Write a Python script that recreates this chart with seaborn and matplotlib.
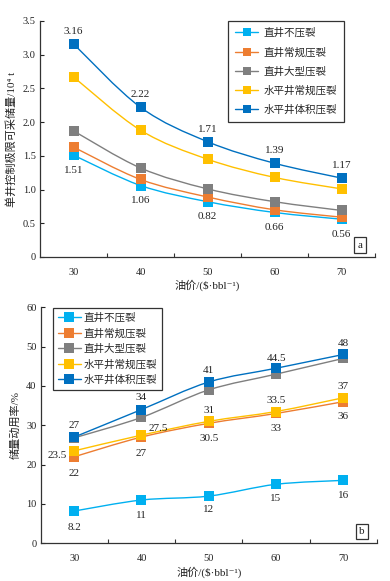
import numpy as np
import pandas as pd
import matplotlib
matplotlib.use("Agg")
import matplotlib.pyplot as plt
import seaborn as sns
from matplotlib.path import Path
from matplotlib.patches import PathPatch
from matplotlib.lines import Line2D

sns.set_theme(style="ticks")
FAM = ['Liberation Serif', 'Noto Sans CJK SC', 'DejaVu Sans']
plt.rcParams['font.family'] = FAM
plt.rcParams['axes.unicode_minus'] = False

# ---------------- data ----------------
prices = ["30", "40", "50", "60", "70"]
series = ["直井不压裂", "直井常规压裂", "直井大型压裂", "水平井常规压裂", "水平井体积压裂"]
colors = ["#00B0F0", "#ED7D31", "#7F7F7F", "#FFC000", "#0070C0"]

# panel a: 单井控制极限可采储量 / 10^4 t
a_vert_none = [1.51, 1.06, 0.82, 0.66, 0.56]
a_vert_conv = [1.63, 1.15, 0.89, 0.70, 0.59]
a_vert_large = [1.87, 1.32, 1.01, 0.82, 0.69]
a_horiz_conv = [2.67, 1.88, 1.45, 1.18, 1.01]
a_horiz_vol = [3.16, 2.22, 1.71, 1.39, 1.17]

# panel b: 储量动用率 / %
b_vert_none = [8.2, 11, 12, 15, 16]
b_vert_conv = [22, 27, 30.5, 33, 36]
b_vert_large = [26.8, 32, 39, 43, 47]
b_horiz_conv = [23.5, 27.5, 31, 33.5, 37]
b_horiz_vol = [27, 34, 41, 44.5, 48]

a_data = [a_vert_none, a_vert_conv, a_vert_large, a_horiz_conv, a_horiz_vol]
b_data = [b_vert_none, b_vert_conv, b_vert_large, b_horiz_conv, b_horiz_vol]

# labels: (series index, point index, text, dx(pt), dy(pt))
a_labels = [(4, i, f"{v:.2f}", 0, 9) for i, v in enumerate(a_horiz_vol)] + \
           [(0, i, f"{v:.2f}", 0, -11) for i, v in enumerate(a_vert_none)]
b_labels = [
    (4, 0, "27", 0, 8), (4, 1, "34", 0, 9), (4, 2, "41", 0, 8), (4, 3, "44.5", 0, 7), (4, 4, "48", 0, 8),
    (3, 0, "23.5", -12, -3), (3, 1, "27.5", 12, 5), (3, 2, "31", 0, 8), (3, 3, "33.5", 0, 8), (3, 4, "37", 0, 8),
    (1, 0, "22", 0, -12), (1, 1, "27", 0, -12), (1, 2, "30.5", 0, -11), (1, 3, "33", 0, -11), (1, 4, "36", 0, -11),
    (0, 0, "8.2", 0, -12), (0, 1, "11", 0, -11), (0, 2, "12", 0, -10), (0, 3, "15", 0, -10), (0, 4, "16", 0, -11),
]


def smooth_patch(xs, ys, color):
    pts = np.column_stack([xs, ys]).astype(float)
    n = len(pts)
    verts = [tuple(pts[0])]
    codes = [Path.MOVETO]
    for i in range(n - 1):
        p0 = pts[max(i - 1, 0)]
        p1 = pts[i]
        p2 = pts[i + 1]
        p3 = pts[min(i + 2, n - 1)]
        c1 = p1 + (p2 - p0) / 6.0
        c2 = p2 - (p3 - p1) / 6.0
        verts += [tuple(c1), tuple(c2), tuple(p2)]
        codes += [Path.CURVE4] * 3
    return PathPatch(Path(verts, codes), facecolor="none", edgecolor=color, lw=1.0, zorder=2)


def draw_panel(ax, data, labels, ylim, yticks, yticklabels, ylabel, tag, legend_kw, leg_ms, leg_fs, msize):
    xpos = np.arange(len(prices))
    rows = []
    for s, vals in zip(series, data):
        for x, v in zip(xpos, vals):
            rows.append({"x": x, "y": v, "series": s})
    df = pd.DataFrame(rows)
    for k, (s, c) in enumerate(zip(series, colors)):
        sub = df[df["series"] == s]
        ax.add_patch(smooth_patch(sub["x"].values, sub["y"].values, c))
        sns.scatterplot(data=sub, x="x", y="y", color=c, marker="s", s=msize,
                        linewidth=0, ax=ax, zorder=3 + k, legend=False)
    for si, pi, txt, dx, dy in labels:
        ax.annotate(txt, (xpos[pi], data[si][pi]), xytext=(dx, dy), textcoords="offset points",
                    ha="center", va="center", fontsize=8, color="#222222", family=FAM, zorder=20)
    ax.set_xlim(-0.5, 4.5)
    ax.set_ylim(*ylim)
    ax.set_yticks(yticks)
    ax.set_yticklabels(yticklabels)
    ax.set_xticks(xpos)
    ax.set_xticklabels(prices)
    ax.set_xticks(np.arange(0.5, 5.0, 1.0), minor=True)
    ax.tick_params(axis="x", which="major", length=0, pad=8, labelsize=7.5, colors="#222222")
    ax.tick_params(axis="x", which="minor", length=3, direction="in", width=0.8, color="#333333")
    ax.tick_params(axis="y", length=3, direction="in", width=0.8, labelsize=7.5, colors="#222222", pad=3)
    for sp in ["top", "right"]:
        ax.spines[sp].set_visible(False)
    for sp in ["left", "bottom"]:
        ax.spines[sp].set_color("#333333")
        ax.spines[sp].set_linewidth(0.9)
    ax.set_xlabel("油价/($·bbl⁻¹)", fontsize=8, family=FAM, color="#222222", labelpad=2)
    ax.set_ylabel(ylabel, fontsize=8, family=FAM, color="#222222", labelpad=4)
    handles = [Line2D([0], [0], color=c, lw=1.0, marker="s", markersize=leg_ms,
                      markeredgewidth=0) for c in colors]
    leg = ax.legend(handles, series, prop={"family": FAM, "size": leg_fs}, fancybox=False,
                    framealpha=1, edgecolor="#333333", borderaxespad=0, **legend_kw)
    leg.get_frame().set_linewidth(0.9)
    leg.set_zorder(30)
    ax.text(0.955, 0.05, tag, transform=ax.transAxes, ha="center", va="center", fontsize=8,
            family=FAM, color="#222222",
            bbox=dict(boxstyle="square,pad=0.3", fc="white", ec="#333333", lw=0.9))


fig = plt.figure(figsize=(3.9, 5.81), dpi=100)
ax1 = fig.add_axes([0.1026, 0.5577, 0.859, 0.4062])
ax2 = fig.add_axes([0.104, 0.0649, 0.8625, 0.4062])

draw_panel(ax1, a_data, a_labels, (0, 3.5), np.arange(0, 3.51, 0.5),
           ["0", "0.5", "1.0", "1.5", "2.0", "2.5", "3.0", "3.5"],
           "单井控制极限可采储量/10⁴ t", "a",
           dict(loc="upper right", bbox_to_anchor=(0.907, 1.0), labelspacing=0.85,
                handlelength=2.2, handletextpad=0.5, borderpad=0.65), 5.5, 7.6, 45)
draw_panel(ax2, b_data, b_labels, (0, 60), np.arange(0, 61, 10),
           [str(v) for v in range(0, 61, 10)],
           "储量动用率/%", "b",
           dict(loc="upper left", bbox_to_anchor=(0.037, 0.997), labelspacing=0.5,
                handlelength=2.2, handletextpad=0.25, borderpad=0.45), 6.5, 7.6, 45)

fig.savefig("out.png", dpi=100)
